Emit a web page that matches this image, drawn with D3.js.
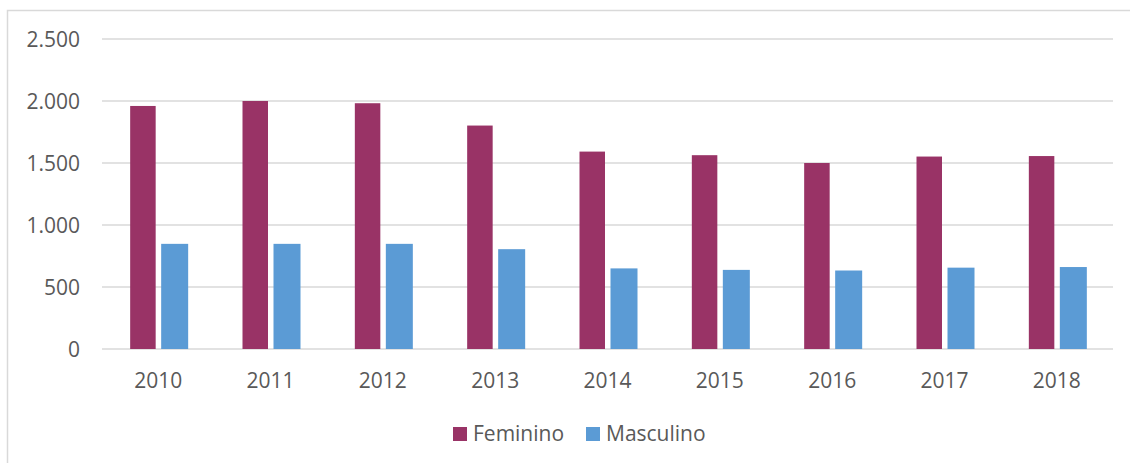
<!DOCTYPE html>
<html>
<head>
<meta charset="utf-8">
<script src="https://cdn.jsdelivr.net/npm/d3@7"></script>
<style>
  body { margin: 0; background: #fff; }
  text { font-family: "Open Sans", sans-serif; fill: #595959; }
</style>
</head>
<body>
<div id="chart"></div>
<script>
// data
var years = ['2010', '2011', '2012', '2013', '2014', '2015', '2016', '2017', '2018'];
var feminino = [1960, 2000, 1982, 1802, 1592, 1563, 1500, 1552, 1556];
var masculino = [848, 848, 848, 805, 650, 638, 633, 656, 661];
var seriesNames = ['Feminino', 'Masculino'];
var seriesColors = ['#993366', '#5b9bd5'];
var yTicks = [0, 500, 1000, 1500, 2000, 2500];

var width = 1130, height = 463;
var plotLeft = 102, plotRight = 1113, plotTop = 39, plotBottom = 349;

var svg = d3.select('#chart').append('svg')
  .attr('width', width)
  .attr('height', height);

// chart border (only top and left show in the picture)
svg.append('rect')
  .attr('x', 7.5).attr('y', 10.5)
  .attr('width', width + 20).attr('height', height + 20)
  .attr('fill', 'none')
  .attr('stroke', '#d9d9d9')
  .attr('stroke-width', 1.5);

var x = d3.scaleBand().domain(years).range([plotLeft, plotRight]).padding(0);
var y = d3.scaleLinear().domain([0, 2500]).range([plotBottom, plotTop]);

// gridlines
svg.append('g').selectAll('line')
  .data(yTicks)
  .enter()
  .append('line')
  .attr('x1', plotLeft).attr('x2', plotRight)
  .attr('y1', function(d) { return y(d); })
  .attr('y2', function(d) { return y(d); })
  .attr('stroke', '#d9d9d9')
  .attr('stroke-width', 1.5);

// y axis labels
var yAxis = d3.axisLeft(y)
  .tickValues(yTicks)
  .tickSize(0)
  .tickPadding(0)
  .tickFormat(function(d) { return d3.format(',')(d).replace(/,/g, '.'); });
var gy = svg.append('g').attr('transform', 'translate(80,0)').call(yAxis);
gy.select('.domain').remove();
gy.selectAll('text')
  .attr('dy', '0.35em')
  .style('font-size', '21px')
  .attr('fill', '#595959');

// x axis labels
var xAxis = d3.axisBottom(x).tickSize(0).tickPadding(0);
var gx = svg.append('g').attr('transform', 'translate(0,' + (plotBottom + 24) + ')').call(xAxis);
gx.select('.domain').remove();
gx.selectAll('text')
  .attr('dy', '0.71em')
  .style('font-size', '21px')
  .attr('fill', '#595959');

// bars
var barW = 25.5;
var offsets = [-28, 3];
[feminino, masculino].forEach(function(values, s) {
  svg.append('g').selectAll('rect')
    .data(values)
    .enter()
    .append('rect')
    .attr('x', function(d, i) { return x(years[i]) + x.bandwidth() / 2 + offsets[s]; })
    .attr('y', function(d) { return y(d); })
    .attr('width', barW + s * 1.5)
    .attr('height', function(d) { return y(0) - y(d); })
    .attr('fill', seriesColors[s]);
});

// legend
var legendX = [453, 586];
var legend = svg.selectAll('.legend')
  .data(seriesNames)
  .enter()
  .append('g')
  .attr('class', 'legend')
  .attr('transform', function(d, i) { return 'translate(' + legendX[i] + ',427)'; });
legend.append('rect')
  .attr('width', 14)
  .attr('height', 14)
  .attr('fill', function(d, i) { return seriesColors[i]; });
legend.append('text')
  .attr('x', 20)
  .attr('y', 14)
  .style('font-size', '21px')
  .text(function(d) { return d; });
</script>
</body>
</html>
